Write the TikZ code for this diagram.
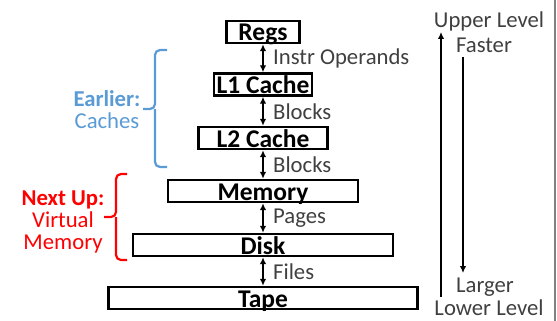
\documentclass[tikz,border=0pt]{standalone}
\usepackage{fontspec}
\setmainfont{Carlito}
\usetikzlibrary{arrows.meta}
\definecolor{earlyblue}{RGB}{91,155,213}
\definecolor{txtgray}{RGB}{64,64,64}
\begin{document}
\begin{tikzpicture}[x=1pt, y=-1pt,
    level/.style={draw, line width=2.4pt, inner sep=0pt, minimum height=22pt,
      font=\fontsize{25.5}{25}\selectfont\bfseries, text height=18pt, text depth=0pt},
    xfer/.style={{Latex[length=7pt,width=6.5pt]}-{Latex[length=7pt,width=6.5pt]}, line width=2.3pt},
    lbl/.style={font=\fontsize{22.7}{22}\selectfont, text=txtgray, inner sep=1pt}]
      \useasboundingbox (0,0) rectangle (557,321);
      \draw[gray, line width=1.2pt] (555,0) -- (555,321);
      % the hierarchy
      \node[level, minimum width=73pt]  (regs) at (263,32)   {Regs};
      \node[level, minimum width=98pt]  (l1)   at (263,84.5) {L1 Cache};
      \node[level, minimum width=129pt] (l2)   at (263,138)  {L2 Cache};
      \node[level, minimum width=190pt] (mem)  at (263,191)  {Memory};
      \node[level, minimum width=260pt] (disk) at (263,245)  {Disk};
      \node[level, minimum width=309pt] (tape) at (263,298)  {Tape};
      \foreach \a/\b/\t in {regs/l1/Instr Operands, l1/l2/Blocks, l2/mem/Blocks,
          mem/disk/Pages, disk/tape/Files}{
        \draw[xfer] (\a) -- (\b) node[lbl, midway, right=8pt] {\t};
      }
      % braces
      \draw[earlyblue, line width=2.2pt, rounded corners=5pt]
        (167,50) -| (155,109) -- (143,109) (155,109) |- (167,167);
      \node[lbl, text=earlyblue, align=center] (early) at (107,110)
        {\textbf{Earlier:}\\Caches};
      \draw[red, line width=2.2pt, rounded corners=5pt]
        (127,174) -| (116,217) -- (104,217) (116,217) |- (127,260);
      \node[lbl, text=red, align=center] (next) at (63,222)
        {\textbf{Next Up:}\\Virtual\\Memory};
      % speed and size
      \node[lbl, anchor=base] (upper)  at (489,28)  {Upper Level};
      \node[lbl, anchor=base] (faster) at (484,53)  {Faster};
      \node[lbl, anchor=base] (larger) at (485,292) {Larger};
      \node[lbl, anchor=base] (lower)  at (489,315) {Lower Level};
      \coordinate (upfoot) at (441,297);
      \coordinate (uptip) at (441,32);
      \coordinate (downtop) at (463,57);
      \coordinate (downtip) at (463,273);
      \draw[-{Latex[length=7pt,width=6.5pt]}, line width=2.3pt] (upfoot) -- (uptip);
      \draw[-{Latex[length=7pt,width=6.5pt]}, line width=2.3pt] (downtop) -- (downtip);
\end{tikzpicture}
\end{document}
